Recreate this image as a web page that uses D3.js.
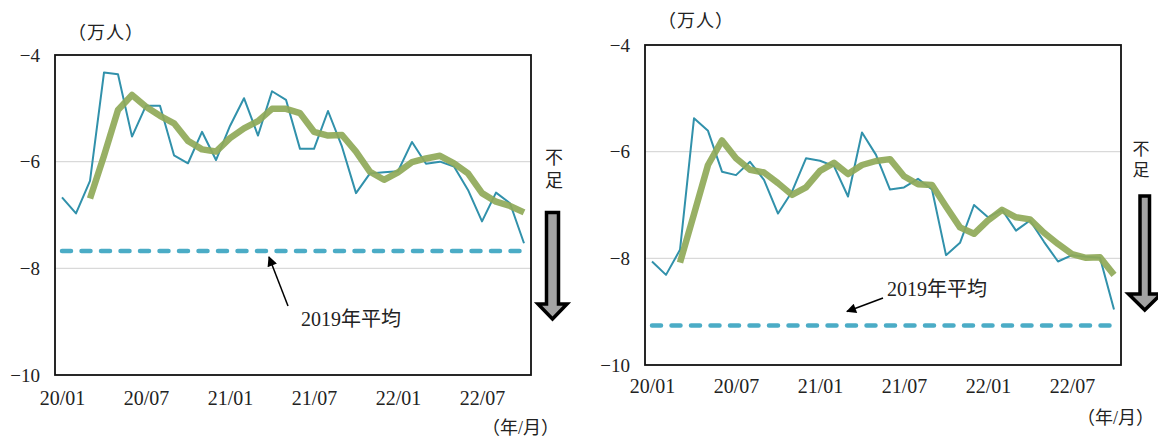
<!DOCTYPE html>
<html>
<head>
<meta charset="utf-8">
<script src="https://cdn.jsdelivr.net/npm/d3@7"></script>
<style>
  html, body { margin: 0; padding: 0; background: #fff; }
  svg text { font-family: "Liberation Serif", "Times New Roman", Tinos, "DejaVu Serif", "Noto Sans CJK JP", serif; fill: #222; }
</style>
</head>
<body>
<svg id="chart" width="1158" height="439"></svg>
<script>
// ---- Data ----
const months = ["20/01","20/02","20/03","20/04","20/05","20/06","20/07","20/08","20/09","20/10","20/11","20/12",
                "21/01","21/02","21/03","21/04","21/05","21/06","21/07","21/08","21/09","21/10","21/11","21/12",
                "22/01","22/02","22/03","22/04","22/05","22/06","22/07","22/08","22/09","22/10"];
const tickMonths = ["20/01","20/07","21/01","21/07","22/01","22/07"];
const yTicks = [-4, -6, -8, -10];

const leftMonthly = [-6.67, -6.97, -6.36, -4.33, -4.36, -5.53, -4.95, -4.95, -5.88, -6.03, -5.44, -5.97,
                     -5.33, -4.81, -5.51, -4.68, -4.84, -5.76, -5.76, -5.05, -5.72, -6.59, -6.22, -6.20,
                     -6.18, -5.63, -6.04, -6.00, -6.09, -6.53, -7.12, -6.58, -6.78, -7.53];
const leftAvg3 = [null, null, -6.69, -5.89, -5.03, -4.75, -4.97, -5.14, -5.28, -5.61, -5.77, -5.81,
                  -5.56, -5.375, -5.24, -5.01, -5.01, -5.09, -5.44, -5.51, -5.50, -5.81, -6.19, -6.34,
                  -6.20, -6.01, -5.94, -5.89, -6.03, -6.22, -6.59, -6.75, -6.83, -6.95];
const left2019 = -7.675;

const rightMonthly = [-8.06, -8.31, -7.84, -5.375, -5.61, -6.375, -6.44, -6.19, -6.53, -7.16, -6.75, -6.125,
                      -6.17, -6.27, -6.84, -5.64, -6.06, -6.71, -6.67, -6.51, -6.71, -7.94, -7.71, -7.00,
                      -7.23, -7.09, -7.48, -7.29, -7.69, -8.06, -7.94, -7.97, -7.99, -8.96];
const rightAvg3 = [null, null, -8.08, -7.17, -6.25, -5.79, -6.125, -6.34, -6.39, -6.59, -6.81, -6.67,
                   -6.36, -6.21, -6.42, -6.25, -6.175, -6.14, -6.46, -6.61, -6.625, -7.03, -7.42, -7.54,
                   -7.29, -7.09, -7.23, -7.27, -7.52, -7.73, -7.92, -7.99, -7.98, -8.31];
const right2019 = -9.26;

const unitLabel = "（万人）";
const xUnitLabel = "（年/月）";
const annotLabel = "2019年平均";
const shortLabel = ["不", "足"];

// ---- Drawing ----
const SERIF = "'Liberation Serif', 'Times New Roman', Tinos, 'DejaVu Serif', 'Noto Sans CJK JP', serif";
const svg = d3.select("#chart");
svg.append("rect").attr("width", 1158).attr("height", 439).attr("fill", "#fff");

svg.append("defs").append("marker")
  .attr("id", "ah").attr("viewBox", "0 0 10 10").attr("refX", 9).attr("refY", 5)
  .attr("markerWidth", 12).attr("markerHeight", 10).attr("markerUnits", "userSpaceOnUse")
  .attr("orient", "auto")
  .append("path").attr("d", "M0,0 L10,5 L0,10 Z").attr("fill", "#000");

function drawChart(cfg) {
  const g = svg.append("g");
  const x = d3.scalePoint().domain(months).range([cfg.left, cfg.right]).padding(0.5);
  const y = d3.scaleLinear().domain([-10, -4]).range([cfg.bottom, cfg.top]);

  g.selectAll(".grid").data([-6, -8]).join("line")
    .attr("x1", cfg.left).attr("x2", cfg.right)
    .attr("y1", d => y(d)).attr("y2", d => y(d))
    .attr("stroke", "#d9d9d9").attr("stroke-width", 1.3);

  const ya = g.append("g").attr("transform", `translate(${cfg.left},0)`)
    .call(d3.axisLeft(y).tickValues(yTicks).tickFormat(d3.format("d")).tickSize(0).tickPadding(15));
  ya.select(".domain").remove();
  ya.attr("font-family", null).attr("font-size", null);
  ya.selectAll("text").style("font-size", "19px").style("font-family", SERIF).attr("fill", "#333");

  const xa = g.append("g").attr("transform", `translate(0,${cfg.bottom})`)
    .call(d3.axisBottom(x).tickValues(tickMonths).tickSize(0).tickPadding(cfg.xPad));
  xa.select(".domain").remove();
  xa.attr("font-family", null).attr("font-size", null);
  xa.selectAll("text").style("font-size", "20px").style("font-family", SERIF).attr("fill", "#333");

  g.append("line")
    .attr("x1", x(months[0])).attr("x2", x(months[months.length - 1]))
    .attr("y1", y(cfg.avg2019)).attr("y2", y(cfg.avg2019))
    .attr("stroke", "#4bacc6").attr("stroke-width", 4.5)
    .attr("stroke-dasharray", "9,10.5").attr("stroke-linecap", "round");

  const line = d3.line().defined(d => d.v != null).x(d => x(d.m)).y(d => y(d.v));
  g.append("path")
    .datum(months.map((m, i) => ({ m, v: cfg.monthly[i] })))
    .attr("d", line).attr("fill", "none")
    .attr("stroke", "#3191ab").attr("stroke-width", 2).attr("stroke-linejoin", "round");

  g.append("path")
    .datum(months.map((m, i) => ({ m, v: cfg.avg[i] })))
    .attr("d", line).attr("fill", "none")
    .attr("stroke", "#8fa958").attr("stroke-opacity", 0.92)
    .attr("stroke-width", 6.5).attr("stroke-linejoin", "round");

  g.append("rect").attr("x", cfg.left).attr("y", cfg.top)
    .attr("width", cfg.right - cfg.left).attr("height", cfg.bottom - cfg.top)
    .attr("fill", "none").attr("stroke", "#111").attr("stroke-width", 1.8);

  g.append("text").attr("x", cfg.unitX).attr("y", cfg.unitY).attr("dy", "0.35em")
    .style("font-size", "18px").style("letter-spacing", "1px").text(unitLabel);
  g.append("text").attr("x", cfg.xUnitX).attr("y", cfg.xUnitY).attr("dy", "0.35em")
    .attr("text-anchor", "end")
    .style("font-size", "18px").text(xUnitLabel);

  g.append("line").attr("x1", cfg.ann.x1).attr("y1", cfg.ann.y1)
    .attr("x2", cfg.ann.x2).attr("y2", cfg.ann.y2)
    .attr("stroke", "#000").attr("stroke-width", 1.5).attr("marker-end", "url(#ah)");
  g.append("text").attr("x", cfg.ann.tx).attr("y", cfg.ann.ty).attr("dy", "0.35em")
    .style("font-size", "20px").text(annotLabel);

  g.selectAll(".short").data(shortLabel).join("text")
    .attr("x", cfg.shortX).attr("y", (d, i) => cfg.shortY + i * cfg.shortGap)
    .attr("dy", "0.35em").attr("text-anchor", "middle")
    .style("font-size", cfg.shortSize + "px").text(d => d);

  const a = cfg.arrow;
  const pts = [[a.sl, a.top], [a.sr, a.top], [a.sr, a.hy], [a.hr, a.hy], [(a.hl + a.hr) / 2, a.tip],
               [a.hl, a.hy], [a.sl, a.hy]];
  g.append("path").attr("d", "M" + pts.map(p => p.join(",")).join("L") + "Z")
    .attr("fill", "#a3a3a3").attr("stroke", "#000").attr("stroke-width", 3.5)
    .attr("stroke-linejoin", "miter");
}

drawChart({
  left: 55, right: 531, top: 55, bottom: 375, xPad: 16,
  monthly: leftMonthly, avg: leftAvg3, avg2019: left2019,
  unitX: 68, unitY: 33, xUnitX: 559, xUnitY: 428,
  ann: { x1: 288, y1: 306, x2: 269, y2: 257, tx: 301, ty: 319 },
  shortX: 554, shortY: 158, shortGap: 23, shortSize: 18,
  arrow: { sl: 546.5, sr: 558.5, top: 212.5, hy: 304, hl: 538, hr: 567, tip: 319 }
});

drawChart({
  left: 645, right: 1121, top: 45, bottom: 365, xPad: 14,
  monthly: rightMonthly, avg: rightAvg3, avg2019: right2019,
  unitX: 658, unitY: 21, xUnitX: 1154, xUnitY: 418,
  ann: { x1: 883, y1: 298, x2: 847, y2: 311.5, tx: 887, ty: 289 },
  shortX: 1141, shortY: 149, shortGap: 21, shortSize: 17,
  arrow: { sl: 1140, sr: 1149.5, top: 196, hy: 294, hl: 1128.5, hr: 1161, tip: 310 }
});
</script>
</body>
</html>
